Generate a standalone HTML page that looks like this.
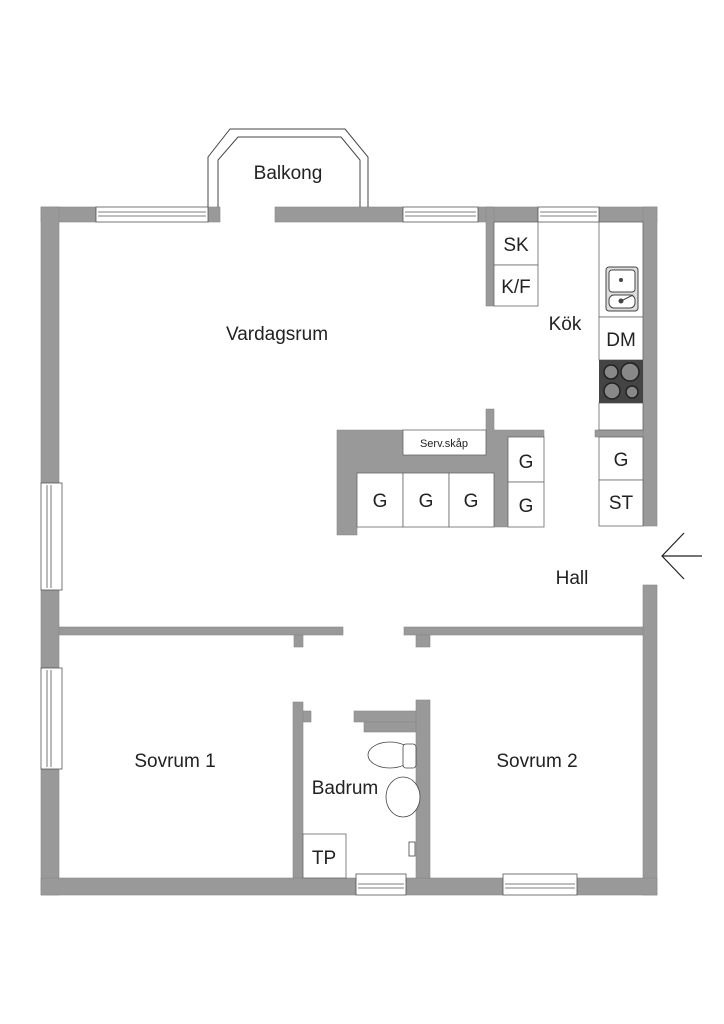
<!DOCTYPE html>
<html><head><meta charset="utf-8"><style>
html,body{margin:0;padding:0;background:#fff;}
svg{display:block}
text{font-family:"Liberation Sans",sans-serif;fill:#222;}
</style></head><body>
<svg width="724" height="1024" viewBox="0 0 724 1024" xmlns="http://www.w3.org/2000/svg">
<g fill="#999" stroke="#888" stroke-width="0.6">
<!-- top wall -->
<rect x="41" y="207" width="55" height="15"/>
<rect x="208" y="207" width="12" height="15"/>
<rect x="275" y="207" width="128" height="15"/>
<rect x="478" y="207" width="60" height="15"/>
<rect x="486" y="207" width="8" height="99"/>
<rect x="599" y="207" width="58" height="15"/>
<!-- left wall -->
<rect x="41" y="207" width="18" height="276"/>
<rect x="41" y="590" width="18" height="78"/>
<rect x="41" y="769" width="18" height="126"/>
<!-- right wall -->
<rect x="643" y="207" width="14" height="319"/>
<rect x="643" y="585" width="14" height="310"/>
<!-- bottom wall -->
<rect x="41" y="878" width="315" height="17"/>
<rect x="406" y="878" width="97" height="17"/>
<rect x="577" y="878" width="80" height="17"/>
<!-- middle wall -->
<rect x="59" y="627" width="284" height="8"/>
<rect x="294" y="635" width="9" height="12"/>
<rect x="404" y="627" width="239" height="8"/>
<rect x="416" y="635" width="14" height="12"/>
<!-- bathroom walls -->
<rect x="293" y="702" width="10" height="176"/>
<rect x="303" y="711" width="8" height="11"/>
<rect x="416" y="700" width="14" height="178"/>
<rect x="354" y="711" width="62" height="11"/>
<rect x="364" y="722" width="52" height="10"/>
<!-- kitchen strip -->
<rect x="595" y="430" width="48" height="7"/>
<!-- island -->
<path d="M337 430 H403 V455 H486 V409 H494 V430 H544 V437 H508 V527 H494 V473 H357 V535 H337 Z"/>
</g>
<!-- windows -->
<g fill="#fff" stroke="#555" stroke-width="0.8">
<rect x="96" y="207" width="112" height="15"/><line x1="98" y1="212" x2="206" y2="212"/><line x1="98" y1="216" x2="206" y2="216"/>
<rect x="403" y="207" width="75" height="15"/><line x1="405" y1="212" x2="476" y2="212"/><line x1="405" y1="216" x2="476" y2="216"/>
<rect x="538" y="207" width="61" height="15"/><line x1="540" y1="212" x2="597" y2="212"/><line x1="540" y1="216" x2="597" y2="216"/>
<rect x="41" y="483" width="21" height="107"/><line x1="47" y1="485" x2="47" y2="588"/><line x1="51" y1="485" x2="51" y2="588"/>
<rect x="41" y="668" width="21" height="101"/><line x1="47" y1="670" x2="47" y2="767"/><line x1="51" y1="670" x2="51" y2="767"/>
<rect x="356" y="874" width="50" height="21"/><line x1="358" y1="884" x2="404" y2="884"/><line x1="358" y1="888" x2="404" y2="888"/>
<rect x="503" y="874" width="74" height="21"/><line x1="505" y1="884" x2="575" y2="884"/><line x1="505" y1="888" x2="575" y2="888"/>
</g>
<!-- balcony -->
<g fill="none" stroke="#444" stroke-width="1">
<polyline points="208,207 208,157 230,129 345,129 368,157 368,207"/>
<polyline points="218,207 218,160 238,137 341,137 360,160 360,207"/>
</g>
<!-- boxes -->
<g fill="#fff" stroke="#666" stroke-width="0.8">
<rect x="494" y="222" width="44" height="43"/>
<rect x="494" y="265" width="44" height="41"/>
<rect x="599" y="222" width="44" height="95"/>
<rect x="599" y="317" width="44" height="43"/>
<rect x="599" y="403" width="44" height="27"/>
<rect x="599" y="437" width="44" height="43"/>
<rect x="599" y="480" width="44" height="46"/>
<rect x="403" y="430" width="83" height="25"/>
<rect x="508" y="437" width="36" height="45"/>
<rect x="508" y="482" width="36" height="45"/>
<rect x="357" y="473" width="46" height="54"/>
<rect x="403" y="473" width="46" height="54"/>
<rect x="449" y="473" width="45" height="54"/>
<rect x="303" y="834" width="43" height="44"/>
</g>
<!-- sink -->
<g stroke="#444" stroke-width="1">
<rect x="606" y="267" width="32" height="44" rx="3" fill="#ddd"/>
<rect x="609" y="270" width="26" height="22" rx="3" fill="#fff"/>
<rect x="609" y="295" width="26" height="13" rx="5" fill="#fff"/>
<circle cx="621" cy="280" r="1.5" fill="#444"/>
<circle cx="621" cy="301" r="2" fill="#444"/>
<line x1="621" y1="301" x2="633" y2="295"/>
</g>
<!-- stove -->
<rect x="599" y="360" width="44" height="43" fill="#444"/>
<g fill="#888" stroke="#222" stroke-width="1.5">
<circle cx="611" cy="372" r="7"/><circle cx="630" cy="372" r="9"/>
<circle cx="612" cy="391" r="8"/><circle cx="632" cy="392" r="6"/>
</g>
<!-- toilet & basin -->
<g fill="#fff" stroke="#444" stroke-width="0.8">
<ellipse cx="390" cy="755" rx="22" ry="13"/>
<rect x="403" y="744" width="13" height="24" rx="3"/>
<ellipse cx="403" cy="797" rx="17" ry="20"/>
<rect x="409" y="842" width="6" height="14"/>
</g>
<!-- entrance arrow -->
<g fill="none" stroke="#222" stroke-width="1.2">
<line x1="662" y1="556" x2="702" y2="556"/>
<polyline points="684,533 662,556 684,579"/>
</g>
<!-- labels -->
<g font-size="19" text-anchor="middle">
<text x="288" y="179">Balkong</text>
<text x="277" y="340">Vardagsrum</text>
<text x="565" y="330">Kök</text>
<text x="516" y="251">SK</text>
<text x="516" y="293">K/F</text>
<text x="621" y="346">DM</text>
<text x="621" y="466">G</text>
<text x="621" y="509">ST</text>
<text x="526" y="468">G</text>
<text x="526" y="512">G</text>
<text x="380" y="507">G</text>
<text x="426" y="507">G</text>
<text x="471" y="507">G</text>
<text x="572" y="584">Hall</text>
<text x="175" y="767">Sovrum 1</text>
<text x="537" y="767">Sovrum 2</text>
<text x="345" y="794">Badrum</text>
<text x="324" y="864">TP</text>
<text x="444" y="447" font-size="11">Serv.skåp</text>
</g>
</svg>
</body></html>
